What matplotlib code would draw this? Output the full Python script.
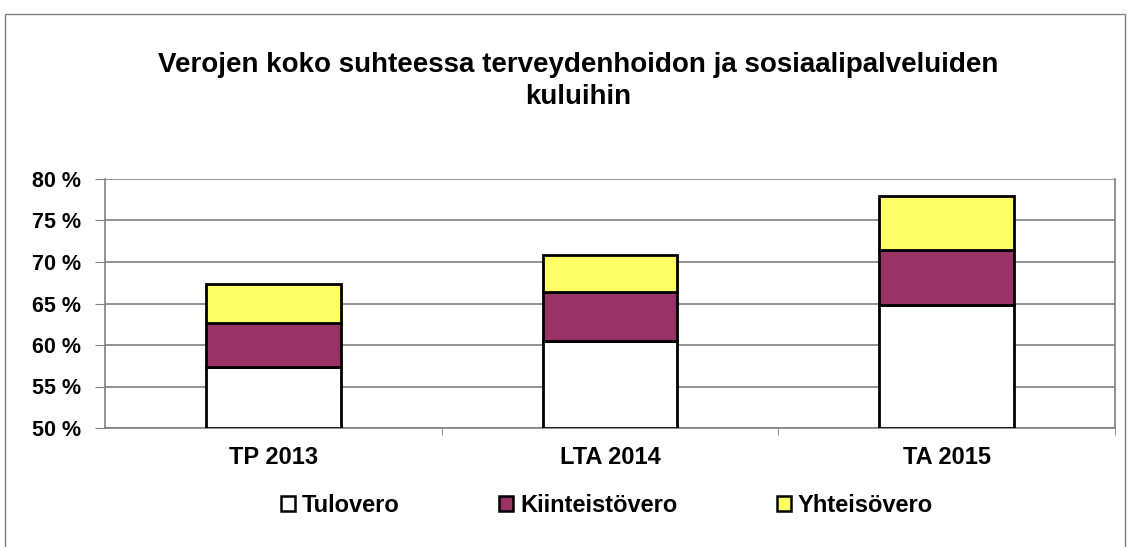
import matplotlib.pyplot as plt
from matplotlib.patches import Rectangle
import numpy as np

plt.rcParams['font.family'] = ['Liberation Sans', 'DejaVu Sans']

categories = ["TP 2013", "LTA 2014", "TA 2015"]
base = 50  # axis starts at 50 %
tulovero = [57.4, 60.5, 64.8]        # top of white segment
kiinteistovero = [5.2, 5.9, 6.6]     # segment heights
yhteisovero = [4.8, 4.4, 6.5]
labels = ["Tulovero", "Kiinteistövero", "Yhteisövero"]
colors = ["#ffffff", "#993366", "#ffff66"]

fig = plt.figure(figsize=(11.34, 5.47), dpi=100)
# outer frame of the chart
fig.patches.append(Rectangle((5 / 1134, -0.01), 1120 / 1134, 1 - 14 / 547 + 0.01,
                             transform=fig.transFigure, fill=False,
                             edgecolor="#808080", linewidth=1))

ax = fig.add_axes([105 / 1134, 1 - 428 / 547, 1010 / 1134, 249 / 547])
x = np.arange(len(categories))
w = 0.4
t = np.array(tulovero) - base
k = np.array(kiinteistovero)
y = np.array(yhteisovero)
ax.bar(x, t, w, bottom=base, color=colors[0], edgecolor="black", linewidth=2, label=labels[0], zorder=3)
ax.bar(x, k, w, bottom=base + t, color=colors[1], edgecolor="black", linewidth=2, label=labels[1], zorder=3)
ax.bar(x, y, w, bottom=base + t + k, color=colors[2], edgecolor="black", linewidth=2, label=labels[2], zorder=3)

ax.set_xlim(-0.5, 2.5)
ax.set_ylim(50, 80)
ax.set_yticks(range(50, 81, 5))
ax.set_yticklabels(["%d %%" % v for v in range(50, 81, 5)], fontsize=15.5, fontweight="bold")
ax.set_xticks(x)
ax.set_xticklabels(categories, fontsize=17, fontweight="bold")
ax.set_xticks([0.5, 1.5, 2.5], minor=True)
ax.tick_params(axis="x", which="major", length=0, pad=13)
ax.tick_params(axis="x", which="minor", length=5, color="#808080")
ax.tick_params(axis="y", length=7, color="#808080", pad=10)
ax.grid(axis="y", color="#808080", linewidth=1.2, zorder=0)
for s in ["left", "bottom", "right"]:
    ax.spines[s].set_color("#808080")
    ax.spines[s].set_linewidth(1.2)
ax.spines["top"].set_visible(False)

fig.text(0.51, 1 - 81 / 547, "Verojen koko suhteessa terveydenhoidon ja sosiaalipalveluiden\nkuluihin",
         ha="center", va="center", fontsize=20, fontweight="bold", linespacing=1.35)

leg = fig.legend(loc="center", bbox_to_anchor=(607 / 1134, 1 - 505 / 547), ncol=3, frameon=False,
                 prop={"size": 17, "weight": "bold"}, handlelength=0.6, handleheight=0.6,
                 handletextpad=0.3, columnspacing=4.2)
for h in leg.legend_handles:
    h.set_linewidth(1.8)

fig.savefig("out.png", dpi=100)
